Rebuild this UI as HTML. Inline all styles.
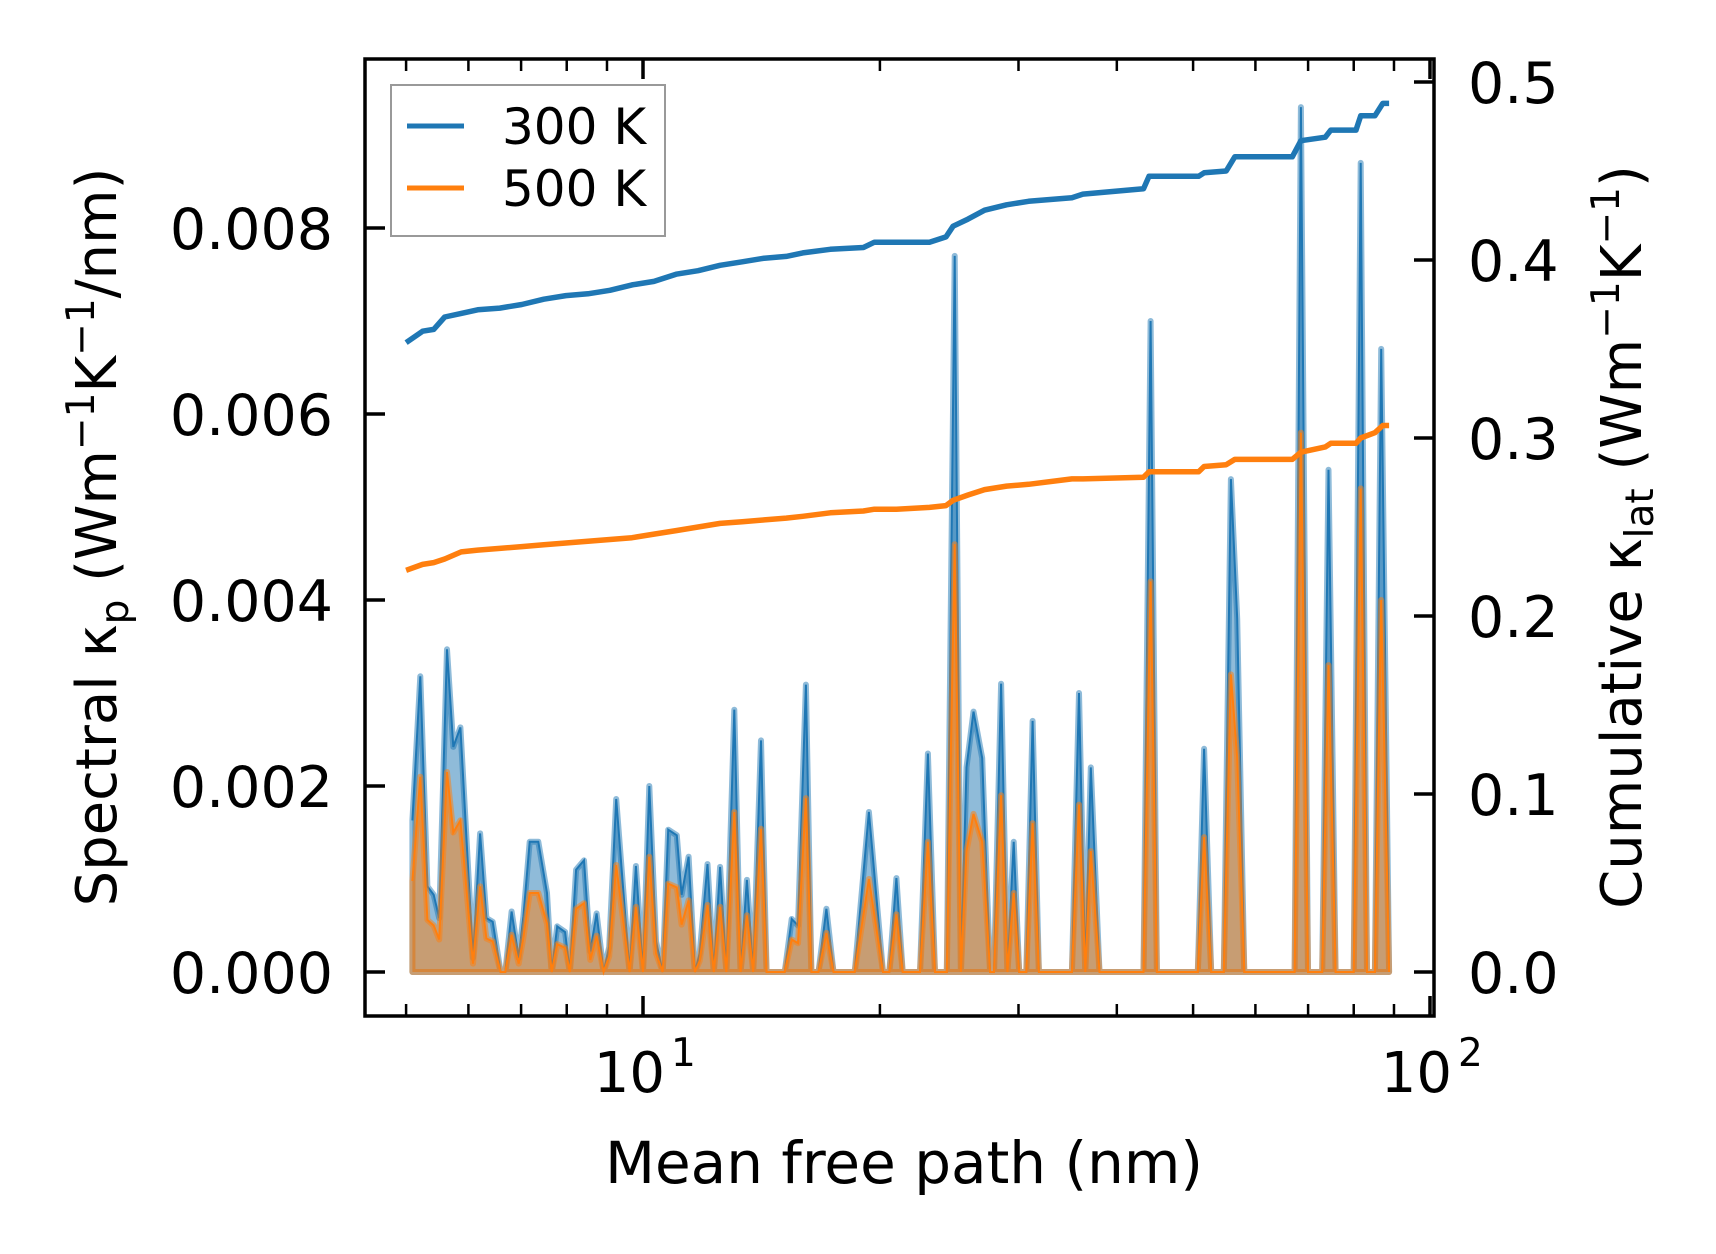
<!DOCTYPE html>
<html><head><meta charset="utf-8"><style>
html,body{margin:0;padding:0;background:#fff;}
svg{display:block;font-family:"DejaVu Sans","Liberation Sans",sans-serif;}
</style></head><body>
<svg id="chart" width="1716" height="1254" viewBox="0 0 1716 1254" xmlns="http://www.w3.org/2000/svg">
<g id="spec"></g>
<g id="cum"></g>
<g id="axes"></g>
<g id="legend">
  <rect x="391" y="85" width="274" height="151" fill="#fff" fill-opacity="0.8" stroke="#999" stroke-width="2"/>
  <line x1="407" y1="126" x2="464" y2="126" stroke="#1f77b4" stroke-width="5"/>
  <text x="502" y="144" font-size="50">300 K</text>
  <line x1="407" y1="188" x2="464" y2="188" stroke="#ff7f0e" stroke-width="5"/>
  <text x="502" y="206" font-size="50">500 K</text>
</g>
<text x="904" y="1183" font-size="58" text-anchor="middle">Mean free path (nm)</text>
<text transform="translate(116,537) rotate(-90)" font-size="56" text-anchor="middle">Spectral κ<tspan font-size="39" dy="12">p</tspan><tspan dy="-12"> (Wm</tspan><tspan font-size="39" dy="-22">−1</tspan><tspan dy="22">K</tspan><tspan font-size="39" dy="-22">−1</tspan><tspan dy="22">/nm)</tspan></text>
<text transform="translate(1641,537) rotate(-90)" font-size="56" text-anchor="middle">Cumulative κ<tspan font-size="39" dy="12">lat</tspan><tspan dy="-12"> (Wm</tspan><tspan font-size="39" dy="-22">−1</tspan><tspan dy="22">K</tspan><tspan font-size="39" dy="-22">−1</tspan><tspan dy="22">)</tspan></text>
</svg>
<script>
// spectral data (log10 of mean free path in nm)
const specLog = [0.707,0.717,0.726,0.734,0.741,0.751,0.759,0.768,0.784,0.793,0.801,0.809,0.819,0.825,0.833,0.842,0.848,0.856,0.867,0.878,0.884,0.891,0.901,0.907,0.915,0.925,0.933,0.941,0.950,0.957,0.966,0.983,0.991,1.000,1.008,1.0165,1.025,1.032,1.043,1.049,1.058,1.066,1.072,1.082,1.090,1.098,1.106,1.116,1.124,1.132,1.140,1.150,1.157,1.180,1.189,1.197,1.207,1.214,1.223,1.233,1.242,1.269,1.287,1.305,1.313,1.322,1.330,1.352,1.362,1.371,1.386,1.396,1.404,1.411,1.420,1.431,1.441,1.446,1.455,1.463,1.471,1.478,1.487,1.495,1.503,1.545,1.554,1.562,1.569,1.580,1.636,1.645,1.653,1.705,1.713,1.722,1.738,1.747,1.755,1.764,1.828,1.836,1.845,1.863,1.871,1.880,1.903,1.912,1.920,1.930,1.938,1.948];
const spec300 = [0.00163,0.00318,0.00092,0.00083,0.00058,0.00347,0.00242,0.00263,0.00015,0.00149,0.00058,0.00054,0,0,0.00065,0.00015,0.0006,0.0014,0.0014,0.00085,0,0.00049,0.00043,0,0.0011,0.0012,0.00022,0.00063,0,0.00027,0.00186,0,0.00114,0,0.002,0.00033,0,0.00153,0.00147,0.00083,0.00124,0,0.0002,0.00116,0,0.00113,0,0.00282,0,0.00099,0,0.00249,0,0,0.00057,0.0005,0.00309,0,0,0.00068,0,0,0.00172,0,0,0.00101,0,0,0.00235,0,0,0.0077,0,0.0022,0.0028,0.0023,0,0,0.0031,0,0.0014,0,0,0.0027,0,0,0.003,0,0.0022,0,0,0.007,0,0,0.0024,0,0,0.0053,0.0038,0,0,0.0093,0,0,0.0054,0,0,0.0087,0,0,0.0067,0];
const spec500 = [0.00098,0.0021,0.00056,0.0005,0.00035,0.00215,0.0015,0.00163,0.00009,0.00092,0.00036,0.00033,0,0,0.0004,0.00009,0.00037,0.00085,0.00085,0.00052,0,0.0003,0.00026,0,0.00068,0.00074,0.00013,0.00039,0,0.00017,0.00115,0,0.0007,0,0.00124,0.0002,0,0.00095,0.00091,0.00051,0.00077,0,0.00012,0.00072,0,0.0007,0,0.00172,0,0.00061,0,0.00154,0,0,0.00035,0.00031,0.00187,0,0,0.00042,0,0,0.001,0,0,0.00062,0,0,0.0014,0,0,0.0046,0,0.0013,0.0017,0.0014,0,0,0.0019,0,0.00085,0,0,0.0016,0,0,0.0018,0,0.0013,0,0,0.0042,0,0,0.00145,0,0,0.0032,0.0023,0,0,0.0058,0,0,0.0033,0,0,0.0052,0,0,0.004,0];
// cumulative data
const cumLog = [0.699,0.720,0.734,0.748,0.769,0.790,0.818,0.846,0.874,0.902,0.930,0.958,0.986,1.014,1.042,1.070,1.098,1.126,1.154,1.182,1.203,1.238,1.280,1.294,1.322,1.364,1.385,1.394,1.413,1.434,1.462,1.490,1.545,1.559,1.636,1.643,1.706,1.713,1.741,1.752,1.825,1.836,1.867,1.874,1.906,1.912,1.930,1.940,1.948];
const cum300 = [0.3536,0.360,0.361,0.368,0.370,0.372,0.373,0.375,0.378,0.380,0.381,0.383,0.386,0.388,0.392,0.394,0.397,0.399,0.401,0.402,0.404,0.406,0.407,0.410,0.410,0.410,0.413,0.419,0.423,0.428,0.431,0.433,0.435,0.437,0.440,0.447,0.447,0.449,0.450,0.458,0.458,0.467,0.469,0.473,0.473,0.481,0.481,0.488,0.488];
const cum500 = [0.2257,0.229,0.230,0.232,0.236,0.237,0.238,0.239,0.240,0.241,0.242,0.243,0.244,0.246,0.248,0.250,0.252,0.253,0.254,0.255,0.256,0.258,0.259,0.260,0.260,0.261,0.262,0.265,0.268,0.271,0.273,0.274,0.277,0.277,0.278,0.281,0.281,0.284,0.285,0.288,0.288,0.292,0.295,0.297,0.297,0.300,0.303,0.307,0.307];
const leftTicks = [0, 0.002, 0.004, 0.006, 0.008];
const leftTickLabels = ["0.000","0.002","0.004","0.006","0.008"];
const rightTicks = [0, 0.1, 0.2, 0.3, 0.4, 0.5];
const rightTickLabels = ["0.0","0.1","0.2","0.3","0.4","0.5"];
const xMajor = [10, 100];
const xMajorExp = ["1","2"];
const xMinor = [5,6,7,8,9,20,30,40,50,60,70,80,90];

const L=365, R=1434, T=59, B=1016;
function xs(v){ return 643 + (Math.log10(v)-1)*787; }
function yl(v){ return 972 - v*93000; }
function yr(v){ return 972 - v*1780; }
const NS="http://www.w3.org/2000/svg";
function mk(tag, parent, attrs){ const e=document.createElementNS(NS,tag); for(const k in attrs) e.setAttribute(k,attrs[k]); parent.appendChild(e); return e; }

const spec=document.getElementById('spec');
function drawSpec(vals, color, name){
  let top = vals.map((v,i)=>xs(Math.pow(10,specLog[i])).toFixed(1)+','+yl(v).toFixed(1));
  const x0=xs(Math.pow(10,specLog[0])).toFixed(1), x1=xs(Math.pow(10,specLog[specLog.length-1])).toFixed(1);
  const poly = top.join(' ')+' '+x1+','+yl(0).toFixed(1)+' '+x0+','+yl(0).toFixed(1);
  const a=mk('polygon',spec,{points:poly,fill:color,'fill-opacity':0.5,stroke:color,'stroke-opacity':0.5,'stroke-width':6,'stroke-linejoin':'round'});
  
  
  const l=mk('polyline',spec,{points:top.join(' '),fill:'none',stroke:color,'stroke-width':2});
  
  
}
drawSpec(spec300,'#1f77b4','spectral-300k');
drawSpec(spec500,'#ff7f0e','spectral-500k');

const cum=document.getElementById('cum');
function drawCum(vals,color,name){
  const pts=vals.map((v,i)=>xs(Math.pow(10,cumLog[i])).toFixed(1)+','+yr(v).toFixed(1)).join(' ');
  const l=mk('polyline',cum,{points:pts,fill:'none',stroke:color,'stroke-width':5.5,'stroke-linejoin':'round'});
  
  
}
drawCum(cum300,'#1f77b4','cumulative-300k');
drawCum(cum500,'#ff7f0e','cumulative-500k');

const ax=document.getElementById('axes');
const frame=mk('rect',ax,{x:L,y:T,width:R-L,height:B-T,fill:'none',stroke:'#000','stroke-width':3.5});


leftTicks.forEach((v,i)=>{
  const y=yl(v);
  const t=mk('line',ax,{x1:L,y1:y,x2:L+20,y2:y,stroke:'#000','stroke-width':3.5});
  
  
  const tx=mk('text',ax,{x:333,y:y+21,'font-size':57,'text-anchor':'end'});
  tx.textContent=leftTickLabels[i];
  
  
});
rightTicks.forEach((v,i)=>{
  const y=yr(v);
  const t=mk('line',ax,{x1:R-20,y1:y,x2:R,y2:y,stroke:'#000','stroke-width':3.5});
  
  
  const tx=mk('text',ax,{x:1468,y:y+21,'font-size':57});
  tx.textContent=rightTickLabels[i];
  
  
});
xMajor.forEach((v,i)=>{
  const x=xs(v);
  [[B,B-20],[T,T+20]].forEach(p=>{
    const t=mk('line',ax,{x1:x,y1:p[0],x2:x,y2:p[1],stroke:'#000','stroke-width':3.5});
    
    
  });
  const tx=mk('text',ax,{x:x+22,y:1092,'font-size':56,'text-anchor':'end'});
  tx.textContent='10';
  
  
  const sup=mk('text',ax,{x:x+28,y:1066,'font-size':39});
  sup.textContent=xMajorExp[i];
  
  
});
xMinor.forEach(v=>{
  const x=xs(v);
  [[B,B-12],[T,T+12]].forEach(p=>{
    const t=mk('line',ax,{x1:x,y1:p[0],x2:x,y2:p[1],stroke:'#000','stroke-width':2.5});
    
    
  });
});
</script>
</body></html>
